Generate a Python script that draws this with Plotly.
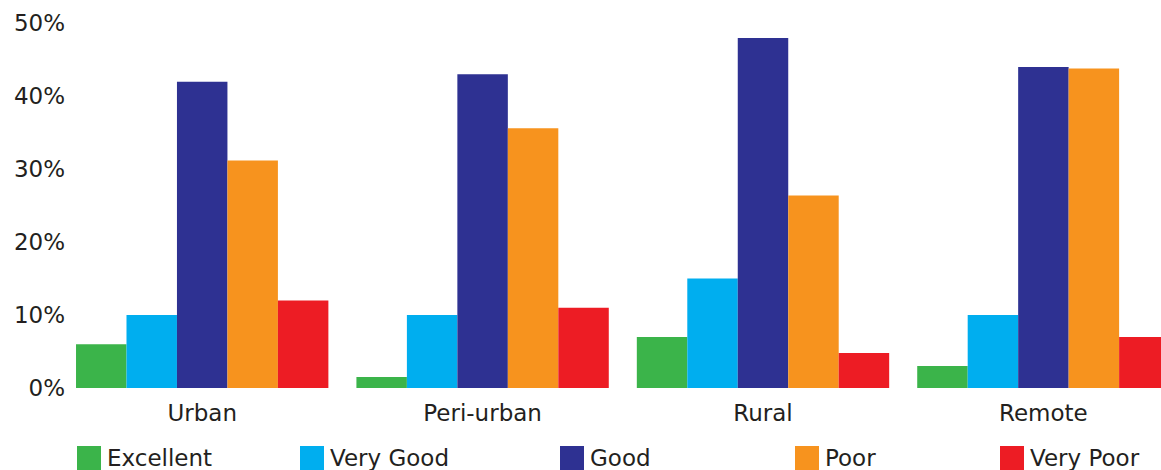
import plotly.graph_objects as go

# Share of respondents rating each area, in percent
areas = ["Urban", "Peri-urban", "Rural", "Remote"]
excellent = [6, 1.5, 7, 3]
very_good = [10, 10, 15, 10]
good = [42, 43, 48, 44]
poor = [31.2, 35.6, 26.4, 43.8]
very_poor = [12, 11, 4.8, 7]

series_names = ["Excellent", "Very Good", "Good", "Poor", "Very Poor"]
series_values = [excellent, very_good, good, poor, very_poor]
colors = ["#3bb44a", "#00aeef", "#2e3192", "#f7931e", "#ed1c24"]

y_ticks = [0, 10, 20, 30, 40, 50]

W, H = 1161, 470
ML, MR, MT, MB = 66, 0, 16, 82
PW, PH = W - ML - MR, H - MT - MB

FONT = "DejaVu Sans"
FSIZE = 23
TEXT = "#231f20"

fig = go.Figure()
for name, vals, col in zip(series_names, series_values, colors):
    fig.add_trace(go.Bar(
        x=areas, y=vals, name=name, marker=dict(color=col, line=dict(width=0)),
        showlegend=False,
    ))


def px_x(p):
    return (p - ML) / PW


def px_y(p):
    return (H - MB - p) / PH


# Legend drawn as coloured squares with labels along the bottom
legend_left = [77, 300, 560, 795, 1000]
shapes, annotations = [], []
for name, col, lx in zip(series_names, colors, legend_left):
    shapes.append(dict(
        type="rect", xref="paper", yref="paper",
        x0=px_x(lx), x1=px_x(lx + 24), y0=px_y(470), y1=px_y(446),
        fillcolor=col, line=dict(width=0),
    ))
    annotations.append(dict(
        xref="paper", yref="paper", x=px_x(lx + 28), y=px_y(458),
        xanchor="left", yanchor="middle", text=name, showarrow=False,
        font=dict(family=FONT, size=FSIZE, color=TEXT),
    ))

x_start = -0.5 + (ML - 62) / 280.4
fig.update_layout(
    width=W, height=H,
    margin=dict(l=ML, r=MR, t=MT, b=MB),
    paper_bgcolor="white", plot_bgcolor="white",
    barmode="group", bargap=0.1, bargroupgap=0,
    font=dict(family=FONT, color=TEXT, size=FSIZE),
    shapes=shapes, annotations=annotations,
    xaxis=dict(
        range=[x_start, x_start + PW / 280.4],
        showgrid=False, zeroline=False, showline=False, ticks="",
        ticklabelstandoff=9,
        tickfont=dict(family=FONT, size=FSIZE, color=TEXT),
    ),
    yaxis=dict(
        range=[0, 51], tickvals=y_ticks, ticktext=[f"{v}%" for v in y_ticks],
        showgrid=False, zeroline=False, showline=False, ticks="",
        tickfont=dict(family=FONT, size=FSIZE, color=TEXT),
    ),
)

fig.write_html("out.html")
